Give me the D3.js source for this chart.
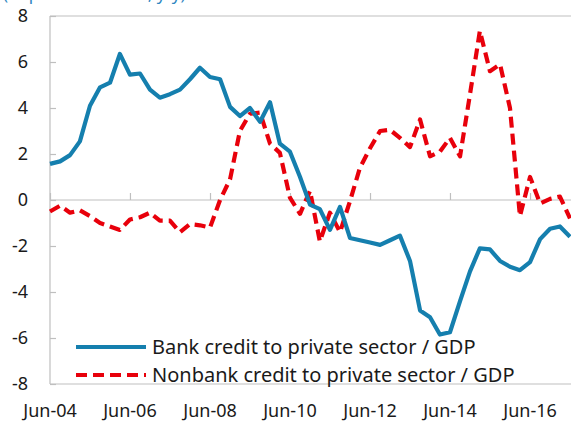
<!DOCTYPE html>
<html>
<head>
<meta charset="utf-8">
<script src="https://cdn.jsdelivr.net/npm/d3@7"></script>
<style>
  html, body { margin: 0; padding: 0; background: #fff; overflow: hidden; }
  svg { display: block; }
  text { font-family: "Noto Sans", "Open Sans", sans-serif; fill: #1a1a1a; }
</style>
</head>
<body>
<svg id="chart" width="571" height="424"></svg>
<script>
// Quarterly observations, Jun-04 .. Jun-17
const startYear = 2004;

const bankCredit = [
  1.57, 1.68, 1.95, 2.55, 4.1, 4.9, 5.1, 6.35, 5.45, 5.5, 4.8, 4.45, 4.6,
  4.8, 5.25, 5.75, 5.35, 5.25, 4.05, 3.65, 4.0, 3.4, 4.25, 2.45, 2.1, 1.0,
  -0.2, -0.4, -1.3, -0.3, -1.65, -1.75, -1.85, -1.95, -1.75, -1.55, -2.65,
  -4.8, -5.1, -5.85, -5.75, -4.4, -3.1, -2.1, -2.15, -2.65, -2.9, -3.05,
  -2.7, -1.7, -1.25, -1.15, -1.6
];
const nonbankCredit = [
  -0.5, -0.25, -0.55, -0.45, -0.7, -1.0, -1.15, -1.3, -0.85, -0.75, -0.55,
  -0.9, -0.9, -1.4, -1.05, -1.1, -1.2, 0.0, 0.9, 3.0, 3.75, 3.8, 2.45, 2.05,
  0.1, -0.6, 0.4, -1.8, -0.55, -1.4, -0.05, 1.4, 2.25, 3.0, 3.05, 2.7, 2.3,
  3.5, 1.9, 2.1, 2.7, 1.9, 4.6, 7.35, 5.6, 5.9, 4.0, -0.7, 1.0, -0.15, 0.05,
  0.15, -0.8
];
const yTicks = [8, 6, 4, 2, 0, -2, -4, -6, -8];
const xTickLabels = ["Jun-04", "Jun-06", "Jun-08", "Jun-10", "Jun-12", "Jun-14", "Jun-16"];
const seriesNames = ["Bank credit to private sector / GDP", "Nonbank credit to private sector / GDP"];
const subtitle = "(In percent of GDP, y/y)";

function quarterDate(i) {
  const m = 5 + 3 * i; // months since Jan-2004
  return new Date(startYear + Math.floor(m / 12), m % 12, 1);
}
function labelDate(s) {
  return new Date(2000 + (+s.slice(4)), 5, 1);
}

const svg = d3.select("#chart");
const x = d3.scaleTime()
  .domain([new Date(2004, 5, 1), new Date(2017, 5, 1)])
  .range([50, 570]);
const y = d3.scaleLinear().domain([-8, 8]).range([384, 16]);
const right = 600;

// subtitle (cut at top edge, as in the reference)
svg.append("text").attr("x", 3).attr("y", 0)
  .style("font-size", "17px").style("fill", "#2e86c1").text(subtitle);

// plot frame
const frame = svg.append("g").attr("stroke", "#bfbfbf").attr("stroke-width", 1.2).attr("fill", "none");
frame.append("line").attr("x1", x.range()[0]).attr("x2", x.range()[0]).attr("y1", y(8)).attr("y2", y(-8));
frame.append("line").attr("x1", x.range()[0]).attr("x2", right).attr("y1", y(8)).attr("y2", y(8));
frame.append("line").attr("x1", x.range()[0]).attr("x2", right).attr("y1", y(-8)).attr("y2", y(-8));

// y axis
const yAxis = svg.append("g").attr("transform", `translate(${x.range()[0]},0)`)
  .call(d3.axisRight(y).tickValues(yTicks).tickSize(6).tickFormat(""));
yAxis.select(".domain").remove();
yAxis.selectAll("line").attr("stroke", "#bfbfbf").attr("stroke-width", 1.2);
svg.append("g").selectAll("text").data(yTicks).join("text")
  .attr("x", 28).attr("y", d => y(d)).attr("dy", "0.35em")
  .attr("text-anchor", "end").style("font-size", "18px")
  .text(d => d);

// zero line with upward ticks
const xAxis = svg.append("g").attr("transform", `translate(0,${y(0)})`)
  .call(d3.axisTop(x).tickValues(xTickLabels.map(labelDate)).tickSize(7).tickFormat(""));
xAxis.select(".domain").attr("stroke", "#bfbfbf").attr("stroke-width", 1.2)
  .attr("d", `M${x.range()[0]},0H${right}`);
xAxis.selectAll("line").attr("stroke", "#bfbfbf").attr("stroke-width", 1.2);

// x labels at bottom
svg.append("g").selectAll("text").data(xTickLabels).join("text")
  .attr("x", d => x(labelDate(d))).attr("y", 411).attr("dy", "0.35em")
  .attr("text-anchor", "middle").style("font-size", "18px")
  .text(d => d);

// lines
const line = d3.line().x((d, i) => x(quarterDate(i))).y(d => y(d));
svg.append("path").datum(nonbankCredit).attr("d", line)
  .attr("fill", "none").attr("stroke", "#e8000b").attr("stroke-width", 4.2)
  .attr("stroke-dasharray", "11,6").attr("stroke-linejoin", "round");
svg.append("path").datum(bankCredit).attr("d", line)
  .attr("fill", "none").attr("stroke", "#157fae").attr("stroke-width", 4.2)
  .attr("stroke-linejoin", "round");

// legend
const legend = [
  { name: seriesNames[0], color: "#157fae", dash: null, yy: 347 },
  { name: seriesNames[1], color: "#e8000b", dash: "11,6", yy: 375 }
];
const lg = svg.append("g").selectAll("g").data(legend).join("g");
lg.append("line").attr("x1", 76).attr("x2", 146)
  .attr("y1", d => d.yy).attr("y2", d => d.yy)
  .attr("stroke", d => d.color).attr("stroke-width", 4.2)
  .attr("stroke-dasharray", d => d.dash);
lg.append("text").attr("x", 152).attr("y", d => d.yy).attr("dy", "0.35em")
  .style("font-size", "20px").text(d => d.name);
</script>
</body>
</html>
